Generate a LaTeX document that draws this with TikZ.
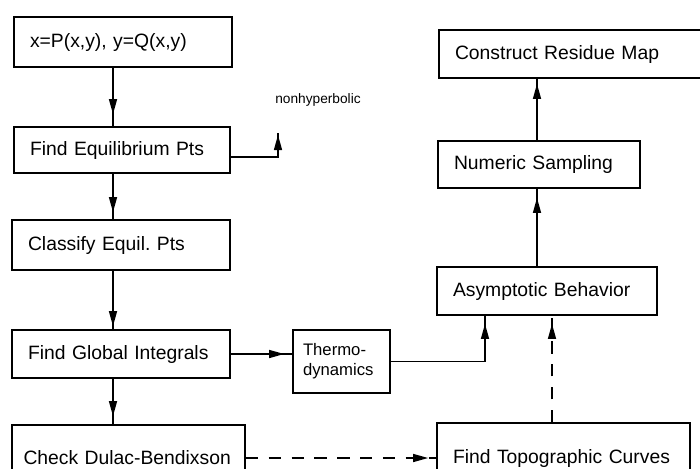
\documentclass[tikz,border=0pt]{standalone}
\usepackage{fontspec}
\setmainfont{Liberation Sans}
\usetikzlibrary{arrows.meta,decorations.markings}
\frenchspacing

\begin{document}
\begin{tikzpicture}[
    x=0.02cm, y=-0.02cm,
    box/.style={draw, line width=1pt, inner xsep=0.32cm, inner ysep=0pt,
                align=left, text width=#1, font=\fontsize{11}{13}\selectfont},
    arr/.style={line width=0.8pt,
                decoration={markings, mark=at position -#1 with
                  {\arrow{Triangle[length=0.3cm,width=0.16cm]}}},
                postaction={decorate}},
    arr/.default=0.04cm,
    dsh/.style={dash pattern=on 7pt off 6pt}
]
    \path[use as bounding box, clip] (0,0) rectangle (700,468);

    \node[box=3.72cm, minimum height=1.0cm]  (eq)       at (123,42)    {x=P(x,y), y=Q(x,y)};
    \node[box=3.68cm, minimum height=0.92cm] (findeq)   at (122,150)   {Find Equilibrium Pts};
    \node[box=3.72cm, minimum height=1.0cm]  (classify) at (121,245)   {Classify Equil. Pts};
    \node[box=3.72cm, minimum height=0.96cm] (global)   at (121,354)   {Find Global Integrals};
    \node[box=4.2cm,  minimum height=1.32cm, inner xsep=0.23cm] (dulac) at (128.5,458) {Check Dulac-Bendixson};
    \node[box=1.54cm, minimum height=1.26cm, inner xsep=0.2cm,
          font=\fontsize{9.5}{11.5}\selectfont] (thermo) at (341.5,361.5) {Thermo-\\dynamics};
    \node[box=4.42cm, minimum height=1.4cm]  (topo)     at (563.5,458) {Find Topographic Curves};
    \node[box=3.76cm, minimum height=0.96cm] (asym)     at (547,291)   {Asymptotic Behavior};
    \node[box=3.4cm,  minimum height=0.94cm] (numeric)  at (539,164.5) {Numeric Sampling};
    \node[box=5.18cm, minimum height=0.96cm] (construct) at (584.5,54) {Construct Residue Map};

    \node[font=\fontsize{7.8}{9}\selectfont, inner sep=0pt] (nonhyp) at (318,100) {nonhyperbolic};

    \coordinate (lc) at (113,0);
    \coordinate (tc) at (485,0);
    \coordinate (dc) at (552,0);
    \coordinate (rc) at (537,0);
    \coordinate (nh) at (278,133);

    \draw[arr=0.24cm] (eq.south -| lc) -- (findeq.north -| lc);
    \draw[arr=0.14cm] (findeq.south -| lc) -- (classify.north -| lc);
    \draw[arr=0.06cm] (classify.south -| lc) -- (global.north -| lc);
    \draw[arr=0.16cm] (global.south -| lc) -- (dulac.north -| lc);
    \draw[arr] ([yshift=-0.14cm]findeq.east) -| (nh);
    \draw[arr=0.16cm] (global.east) -- (global.east -| thermo.west);
    \draw[arr=0.16cm] (thermo.east) -| (asym.south -| tc);
    \draw[arr=0.16cm, dsh] (dulac.east) -- (topo.west);
    \draw[arr=0.16cm, dsh] (topo.north -| dc) -- (asym.south -| dc);
    \draw[arr=0.18cm] (asym.north -| rc) -- (numeric.south -| rc);
    \draw[arr=0.1cm] (numeric.north -| rc) -- (construct.south -| rc);
\end{tikzpicture}
\end{document}
